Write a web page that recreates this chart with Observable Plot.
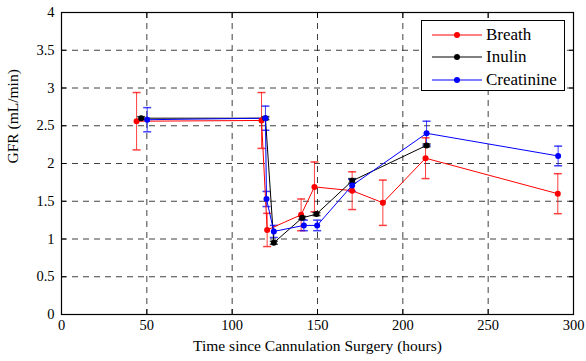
<!DOCTYPE html>
<html><head><meta charset="utf-8">
<script src="https://cdn.jsdelivr.net/npm/d3@7"></script>
<script src="https://cdn.jsdelivr.net/npm/@observablehq/plot@0.6"></script>
<style>
body{margin:0;background:#fff}
#chart{position:relative;width:586px;height:361px}
#legend{position:absolute;left:421px;top:20px;width:142px;height:69px;border:1.2px solid #000;background:#fff;
  font-family:"Liberation Serif","Times New Roman",serif;font-size:17px;color:#000}
#legend .row{position:absolute;left:0;height:22px;line-height:22px;white-space:nowrap}
#legend svg{position:absolute;left:9px;top:0}
#legend span{position:absolute;left:64px;top:0}
</style>
</head><body><div id="chart"><div id="legend"></div></div>
<script>
const seriesNames = ["Breath", "Inulin", "Creatinine"];
const seriesColors = ["#ff0000", "#000000", "#0000ff"];

const breathHours = [44, 117.2, 120.5, 140.4, 148.2, 170.3, 188.3, 213.3, 290.8];
const breathGFR   = [2.56, 2.57, 1.12, 1.32, 1.69, 1.64, 1.48, 2.07, 1.60];
const breathErr   = [0.38, 0.37, 0.22, 0.21, 0.33, 0.25, 0.30, 0.27, 0.265];

const inulinHours = [46.7, 119.5, 124.4, 141, 149.4, 170.3, 213.9];
const inulinGFR   = [2.60, 2.60, 0.95, 1.28, 1.33, 1.77, 2.24];
const inulinErr   = [0.02, 0.02, 0.02, 0.02, 0.02, 0.03, 0.02];

const creatHours = [50.2, 119.5, 120.1, 124.4, 142, 149.8, 170.3, 213.9, 291];
const creatGFR   = [2.58, 2.60, 1.53, 1.10, 1.18, 1.18, 1.71, 2.40, 2.10];
const creatErr   = [0.16, 0.16, 0.10, 0.08, 0.07, 0.07, 0.08, 0.16, 0.13];

const xTicks = [0, 50, 100, 150, 200, 250, 300];
const yTicks = [0, 0.5, 1, 1.5, 2, 2.5, 3, 3.5, 4];
const xLabel = "Time since Cannulation Surgery (hours)";
const yLabel = "GFR (mL/min)";

const rows = [];
function addSeries(name, hours, gfr, err) {
  hours.forEach((h, i) => rows.push({series: name, hours: h, gfr: gfr[i], lo: gfr[i] - err[i], hi: gfr[i] + err[i]}));
}
addSeries("Breath", breathHours, breathGFR, breathErr);
addSeries("Inulin", inulinHours, inulinGFR, inulinErr);
addSeries("Creatinine", creatHours, creatGFR, creatErr);

const cap = {draw(ctx) { ctx.moveTo(-4, 0); ctx.lineTo(4, 0); }};
const font = "'Liberation Serif', 'Times New Roman', serif";

const chart = Plot.plot({
  width: 586, height: 361,
  marginLeft: 61, marginRight: 13, marginTop: 12, marginBottom: 47,
  style: {fontFamily: font, fontSize: "14.5px", background: "#fff", color: "#000"},
  x: {domain: [0, 300]},
  y: {domain: [0, 4]},
  color: {domain: seriesNames, range: seriesColors},
  marks: [
    Plot.gridX(xTicks, {stroke: "#000", strokeOpacity: 0.75, strokeDasharray: "6,5"}),
    Plot.gridY(yTicks, {stroke: "#000", strokeOpacity: 0.75, strokeDasharray: "6,5"}),
    Plot.axisX(xTicks, {anchor: "bottom", tickSize: -5, tickPadding: 10, tickFormat: d => String(d), label: null}),
    Plot.axisX(xTicks, {anchor: "top", tickSize: -5, tickFormat: () => "", label: null}),
    Plot.axisY(yTicks, {anchor: "left", tickSize: -5, tickPadding: 12, tickFormat: d => String(d), label: null}),
    Plot.axisY(yTicks, {anchor: "right", tickSize: -5, tickFormat: () => "", label: null}),
    Plot.frame({stroke: "#000", strokeWidth: 1.2}),
    Plot.ruleX(rows, {x: "hours", y1: "lo", y2: "hi", stroke: "series", strokeOpacity: 0.75}),
    Plot.dot(rows, {x: "hours", y: "lo", symbol: cap, stroke: "series", fill: "none", strokeOpacity: 0.75}),
    Plot.dot(rows, {x: "hours", y: "hi", symbol: cap, stroke: "series", fill: "none", strokeOpacity: 0.75}),
    Plot.line(rows, {x: "hours", y: "gfr", z: "series", stroke: "series", strokeWidth: 1}),
    Plot.dot(rows, {x: "hours", y: "gfr", fill: "series", r: 3}),
    Plot.text([xLabel], {text: d => d, frameAnchor: "bottom", dy: 36, fontSize: 15.5}),
    Plot.text([yLabel], {text: d => d, frameAnchor: "left", dx: -48, rotate: -90, fontSize: 15.5})
  ]
});

const host = document.getElementById("chart");
host.insertBefore(chart, host.firstChild);

// Legend overlay (top right), built from the series arrays
const legend = d3.select("#legend");
seriesNames.forEach((name, i) => {
  const row = legend.append("div").attr("class", "row").style("top", (2.5 + i * 22.7) + "px").style("width", "142px");
  const s = row.append("svg").attr("width", 52).attr("height", 22);
  s.append("line").attr("x1", 1).attr("x2", 51).attr("y1", 11).attr("y2", 11)
    .attr("stroke", seriesColors[i]).attr("stroke-width", 1);
  s.append("circle").attr("cx", 26).attr("cy", 11).attr("r", 3).attr("fill", seriesColors[i]);
  row.append("span").text(name);
});
</script>
</body></html>
